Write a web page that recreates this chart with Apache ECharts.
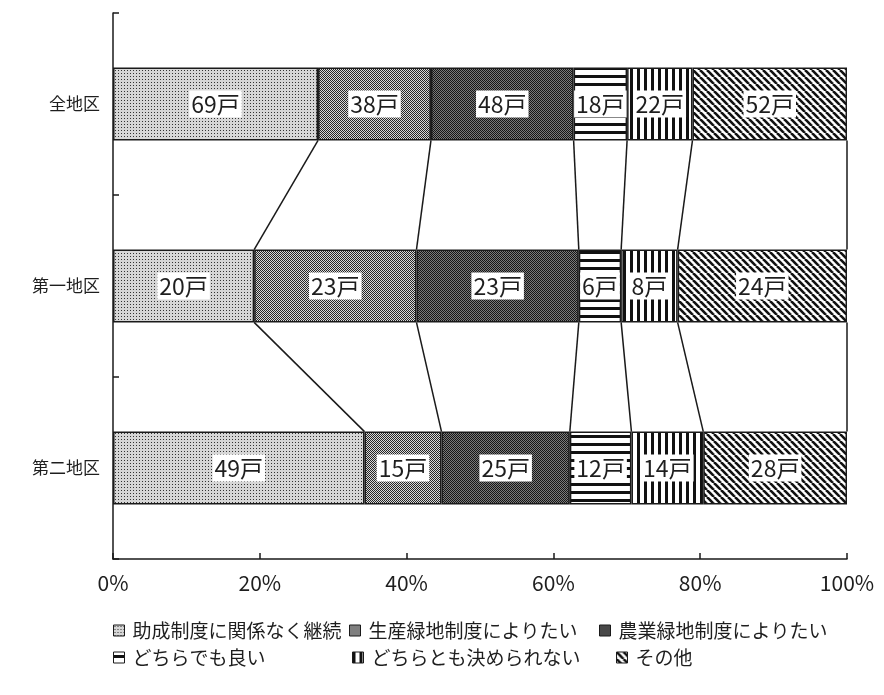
<!DOCTYPE html>
<html><head><meta charset="utf-8">
<script src="https://cdn.jsdelivr.net/npm/echarts@6/dist/echarts.min.js"></script>
<style>html,body{margin:0;padding:0;background:#fff}#c{width:884px;height:695px}</style>
</head><body><div id="c"></div>
<script>
const categories = ['全地区', '第一地区', '第二地区'];
const seriesNames = ['助成制度に関係なく継続', '生産緑地制度によりたい', '農業緑地制度によりたい', 'どちらでも良い', 'どちらとも決められない', 'その他'];
const s1 = [69, 20, 49];
const s2 = [38, 23, 15];
const s3 = [48, 23, 25];
const s4 = [18, 6, 12];
const s5 = [22, 8, 14];
const s6 = [52, 24, 28];
const tickLabels = ['0%', '20%', '40%', '60%', '80%', '100%'];
const unit = '戸';

const counts = [s1, s2, s3, s4, s5, s6];
const totals = categories.map((_, i) => counts.reduce((a, s) => a + s[i], 0));
const pct = counts.map(s => s.map((v, i) => v / totals[i] * 100));

function tile(w, h, draw) {
  const c = document.createElement('canvas');
  c.width = w; c.height = h;
  const g = c.getContext('2d');
  draw(g, w, h);
  return { image: c, repeat: 'repeat' };
}
const patterns = [
  tile(3, 3, (g) => { g.fillStyle = '#d6d6d6'; g.fillRect(0, 0, 3, 3); g.fillStyle = '#333'; g.fillRect(1, 1, 1, 1); }),
  tile(2, 2, (g) => { g.fillStyle = '#d8d8d8'; g.fillRect(0, 0, 2, 2); g.fillStyle = '#262626'; g.fillRect(0, 0, 1, 1); g.fillRect(1, 1, 1, 1); }),
  tile(2, 2, (g) => { g.fillStyle = '#7a7a7a'; g.fillRect(0, 0, 2, 2); g.fillStyle = '#161616'; g.fillRect(0, 0, 1, 1); g.fillRect(1, 1, 1, 1); }),
  tile(1, 8, (g) => { g.fillStyle = '#fff'; g.fillRect(0, 0, 1, 8); g.fillStyle = '#111'; g.fillRect(0, 3, 1, 3); }),
  tile(7, 1, (g) => { g.fillStyle = '#fff'; g.fillRect(0, 0, 7, 1); g.fillStyle = '#111'; g.fillRect(0, 0, 3, 1); }),
  tile(7, 7, (g) => { g.fillStyle = '#fff'; g.fillRect(0, 0, 7, 7); g.strokeStyle = '#111'; g.lineWidth = 2.6;
    [-7, 0, 7].forEach(o => { g.beginPath(); g.moveTo(o, 0); g.lineTo(o + 7, 7); g.stroke(); }); })
];

const FONT = '"Noto Sans CJK JP", "Noto Sans", sans-serif';
const TXT = '#1e1e1e';

// cumulative boundaries for connector lines
const cum = categories.map((_, i) => { let a = 0; return pct.map(s => (a += s[i])); });
const connectors = [];
for (let r = 0; r < categories.length - 1; r++) {
  for (let k = 0; k < seriesNames.length; k++) connectors.push([cum[r][k], r, cum[r + 1][k], r + 1]);
}

const barSeries = seriesNames.map((name, si) => ({
  name, type: 'bar', stack: 'total', barWidth: '40%',
  data: pct[si],
  itemStyle: { color: patterns[si], borderColor: '#1a1a1a', borderWidth: 1.5 },
  label: {
    show: true, position: 'inside', fontSize: 23, color: TXT, fontFamily: FONT,
    backgroundColor: '#fff', padding: [3, 2, 1, 2],
    formatter: p => counts[si][p.dataIndex] + unit
  },
  emphasis: { disabled: true }
}));

const legendPos = [[113, 621], [349, 621], [599, 621], [113, 648], [352, 648], [616, 648]];
const legends = seriesNames.map((n, i) => ({
  data: [n], left: legendPos[i][0], top: legendPos[i][1], padding: 0,
  icon: 'rect', itemWidth: 11, itemHeight: 11, itemGap: 0, selectedMode: false,
  itemStyle: { borderColor: '#1a1a1a', borderWidth: 1 },
  textStyle: { fontSize: 19, color: TXT, fontFamily: FONT, padding: [0, 0, 0, 3] }
}));

const chart = echarts.init(document.getElementById('c'), null, { renderer: 'canvas' });
chart.setOption({
  animation: false,
  backgroundColor: '#fff',
  grid: { left: 113, right: 37, top: 13, bottom: 136 },
  legend: legends,
  xAxis: {
    type: 'value', min: 0, max: 100, interval: 20,
    axisLine: { show: true, lineStyle: { color: '#1a1a1a', width: 1.5 } },
    axisTick: { show: true, inside: true, length: 6, lineStyle: { color: '#1a1a1a', width: 1.5 } },
    splitLine: { show: false },
    axisLabel: { fontSize: 21, color: TXT, fontFamily: FONT, margin: 14,
      formatter: v => tickLabels[Math.round(v / 20)] }
  },
  yAxis: {
    type: 'category', data: categories, inverse: true,
    axisLine: { show: true, lineStyle: { color: '#1a1a1a', width: 1.5 } },
    axisTick: { show: true, inside: true, length: 6, lineStyle: { color: '#1a1a1a', width: 1.5 } },
    axisLabel: { fontSize: 17, color: TXT, fontFamily: FONT, margin: 13 }
  },
  series: barSeries.concat([{
    type: 'custom', name: 'connectors', silent: true, z: 1,
    encode: { x: [0, 2], y: [1, 3] },
    data: connectors,
    renderItem: (params, api) => {
      const a = api.coord([api.value(0), api.value(1)]);
      const b = api.coord([api.value(2), api.value(3)]);
      const half = api.size([0, 1])[1] * 0.2;
      return { type: 'line', shape: { x1: a[0], y1: a[1] + half, x2: b[0], y2: b[1] - half },
        style: { stroke: '#1a1a1a', lineWidth: 1.5 } };
    }
  }])
});
</script></body></html>
